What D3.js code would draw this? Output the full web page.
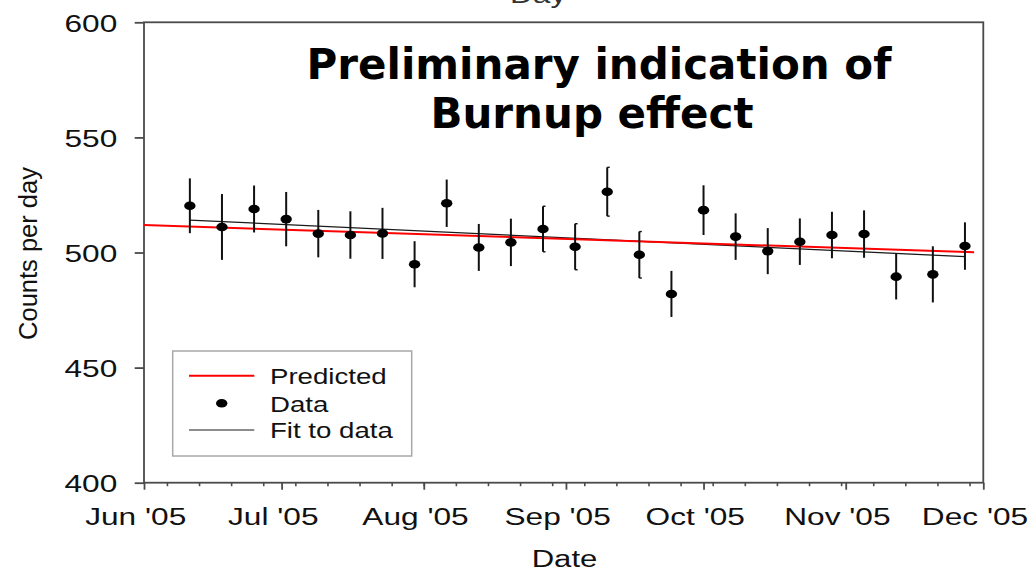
<!DOCTYPE html>
<html>
<head>
<meta charset="utf-8">
<script src="https://cdn.jsdelivr.net/npm/d3@7"></script>
<style>
  html, body { margin: 0; padding: 0; background: #fff; }
  svg { display: block; }
</style>
</head>
<body>
<svg id="chart" width="1032" height="571"></svg>
<script>
// Weekly count rates, with 1-sigma error bars
const dates = ["2005-06-11", "2005-06-18", "2005-06-25", "2005-07-02", "2005-07-09",
  "2005-07-16", "2005-07-23", "2005-07-30", "2005-08-06", "2005-08-13",
  "2005-08-20", "2005-08-27", "2005-09-03", "2005-09-10", "2005-09-17",
  "2005-09-24", "2005-10-01", "2005-10-08", "2005-10-15", "2005-10-22",
  "2005-10-29", "2005-11-05", "2005-11-12", "2005-11-20", "2005-11-27"];
const counts = [520.3, 511.1, 518.9, 514.5, 508.2, 507.6, 508.3, 494.9, 521.4, 502.2,
  504.4, 510.2, 502.5, 526.4, 499.0, 482.0, 518.4, 506.9, 500.6, 504.7,
  507.6, 508.0, 489.5, 490.5, 502.8];
const errors = [11.9, 14.3, 10.2, 11.8, 10.3, 10.3, 11.1, 10.0, 10.3, 10.2,
  10.3, 9.9, 10.0, 10.6, 10.1, 10.0, 10.8, 10.1, 10.0, 10.1,
  10.1, 10.3, 9.9, 12.2, 10.3];

// Predicted burnup trend and the straight-line fit to the data
const predictedDates = ["2005-06-01", "2005-11-29"];
const predictedValues = [511.9, 500.1];
const fitDates = ["2005-06-11", "2005-11-27"];
const fitValues = [514.1, 498.2];

const yTicks = [400, 450, 500, 550, 600];
const xDomain = ["2005-06-01", "2005-12-01"];
const titleLines = ["Preliminary indication of", "Burnup effect"];
const legendLabels = ["Predicted", "Data", "Fit to data"];

const parse = d3.timeParse("%Y-%m-%d");
const svg = d3.select("#chart");
const W = 1032, H = 571;
const m = { left: 144, right: 48.7, top: 22.3, bottom: 88.3 };
const FONT = "'Liberation Sans', Arial, sans-serif";
const SX = 1.33;            // wide lettering of the plot text
const axisColor = "#4a4a4a";

const x = d3.scaleTime().domain(xDomain.map(parse)).range([m.left, W - m.right]);
const y = d3.scaleLinear().domain([400, 600]).range([H - m.bottom, m.top]);

const data = dates.map((d, i) => ({ date: parse(d), v: counts[i], e: errors[i] }));

// heading running off the top edge
svg.append("g").attr("transform", "translate(510,3)")
  .append("text").attr("transform", `scale(${SX},1)`)
  .attr("font-family", FONT).attr("font-size", 23.8).attr("fill", "#333")
  .text("Day");

// minor weekly ticks
const minor = svg.append("g").attr("transform", `translate(0,${y(400)})`)
  .call(d3.axisBottom(x).ticks(d3.timeMonday.every(1)).tickSize(3.5).tickSizeOuter(0).tickFormat(""));
minor.select(".domain").remove();
minor.selectAll("line").attr("stroke", axisColor).attr("stroke-width", 1.6);

// major month ticks with labels
const xAxis = svg.append("g").attr("transform", `translate(0,${y(400)})`)
  .call(d3.axisBottom(x).ticks(d3.timeMonth.every(1)).tickSize(7).tickSizeOuter(0)
    .tickFormat(d3.timeFormat("%b '%y")));
xAxis.select(".domain").remove();
xAxis.selectAll("line").attr("stroke", axisColor).attr("stroke-width", 1.8);
xAxis.selectAll("text")
  .attr("y", null).attr("dy", null)
  .attr("transform", `translate(-8.8,42.3) scale(${SX},1)`)
  .attr("font-family", FONT).attr("font-size", 23.8).attr("fill", "#111");

// y axis
const yAxis = svg.append("g").attr("transform", `translate(${m.left},0)`)
  .call(d3.axisLeft(y).tickValues(yTicks).tickSize(9.3).tickSizeOuter(0));
yAxis.select(".domain").remove();
yAxis.selectAll("line").attr("stroke", axisColor).attr("stroke-width", 1.8);
yAxis.selectAll("text")
  .attr("x", null).attr("dy", null)
  .attr("transform", `translate(-26.7,8.7) scale(${SX},1)`)
  .attr("font-family", FONT).attr("font-size", 23.8).attr("fill", "#111");

// plot frame
svg.append("rect")
  .attr("x", m.left).attr("y", m.top)
  .attr("width", W - m.right - m.left).attr("height", y(400) - m.top)
  .attr("fill", "none").attr("stroke", axisColor).attr("stroke-width", 1.8);

// axis titles
svg.append("g").attr("transform", `translate(564.5,566.5)`)
  .append("text").attr("transform", `scale(${SX},1)`)
  .attr("text-anchor", "middle").attr("font-family", FONT).attr("font-size", 23.4).attr("fill", "#111")
  .text("Date");
svg.append("text")
  .attr("transform", "translate(36.5,253.5) rotate(-90)")
  .attr("text-anchor", "middle").attr("font-family", FONT).attr("font-size", 25.5).attr("fill", "#111")
  .text("Counts per day");

// title
const titleX = [599, 592];
titleLines.forEach((t, i) => {
  svg.append("text")
    .attr("x", titleX[i]).attr("y", 79.3 + i * 48.4)
    .attr("text-anchor", "middle")
    .attr("font-family", "'DejaVu Sans', sans-serif").attr("font-weight", "bold")
    .attr("font-size", 42).attr("fill", "#000")
    .text(t);
});

const line = d3.line().x(d => x(d[0])).y(d => y(d[1]));

// fit to data
svg.append("path")
  .datum(fitDates.map((d, i) => [parse(d), fitValues[i]]))
  .attr("d", line).attr("fill", "none").attr("stroke", "#1a1a1a").attr("stroke-width", 1.3);

// predicted
svg.append("path")
  .datum(predictedDates.map((d, i) => [parse(d), predictedValues[i]]))
  .attr("d", line).attr("fill", "none").attr("stroke", "#ff0000").attr("stroke-width", 2);

// error bars
const bars = svg.append("g");
bars.selectAll("line.err").data(data).join("line").attr("class", "err")
  .attr("x1", d => x(d.date)).attr("x2", d => x(d.date))
  .attr("y1", d => y(d.v + d.e)).attr("y2", d => y(d.v - d.e))
  .attr("stroke", "#111").attr("stroke-width", 2);

// a few bars carry short end caps
const capped = data.slice(11, 15);
capped.forEach(d => {
  [d.v + d.e, d.v - d.e].forEach(v => {
    bars.append("line")
      .attr("x1", x(d.date)).attr("x2", x(d.date) + 2.5)
      .attr("y1", y(v)).attr("y2", y(v))
      .attr("stroke", "#111").attr("stroke-width", 1.4);
  });
});

// data points
svg.append("g").selectAll("ellipse").data(data).join("ellipse")
  .attr("cx", d => x(d.date)).attr("cy", d => y(d.v))
  .attr("rx", 5.7).attr("ry", 4.3).attr("fill", "#000");

// legend
const lg = svg.append("g");
lg.append("rect").attr("x", 172.7).attr("y", 351).attr("width", 239).attr("height", 105)
  .attr("fill", "#fff").attr("stroke", "#a8a8a8").attr("stroke-width", 1.5);
const rowY = [375.7, 403.3, 430];
lg.append("line").attr("x1", 189).attr("x2", 254.3).attr("y1", rowY[0]).attr("y2", rowY[0])
  .attr("stroke", "#ff0000").attr("stroke-width", 2);
lg.append("ellipse").attr("cx", 221.7).attr("cy", rowY[1]).attr("rx", 5.7).attr("ry", 4.3).attr("fill", "#000");
lg.append("line").attr("x1", 189).attr("x2", 254.3).attr("y1", rowY[2]).attr("y2", rowY[2])
  .attr("stroke", "#1a1a1a").attr("stroke-width", 1.2);
legendLabels.forEach((t, i) => {
  lg.append("g").attr("transform", `translate(270,${rowY[i] + 8.3})`)
    .append("text").attr("transform", "scale(1.285,1)")
    .attr("font-family", FONT).attr("font-size", 21.5).attr("fill", "#111")
    .text(t);
});
</script>
</body>
</html>
